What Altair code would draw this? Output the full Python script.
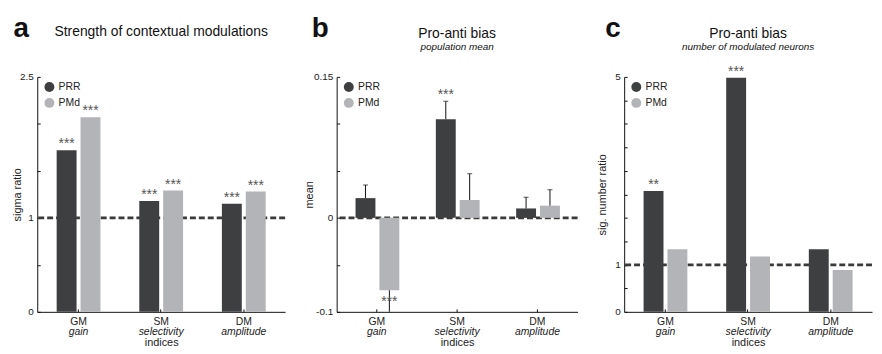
import altair as alt
import pandas as pd

categories = ["GM", "SM", "DM"]
subtitles = ["gain", "selectivity", "amplitude"]
areas = ["PRR", "PMd"]
colors = ["#3e3f41", "#b3b4b7"]

# panel a: strength of contextual modulations (sigma ratio)
a_prr = [1.72, 1.18, 1.15]
a_pmd = [2.07, 1.29, 1.28]
a_stars_prr = ["***", "***", "***"]
a_stars_pmd = ["***", "***", "***"]
a_labels = [0, 1, 2.5]
a_ticks = [0, 0.5, 1, 1.5, 2, 2.5]

# panel b: pro-anti bias, population mean (with error bars)
b_prr = [0.021, 0.105, 0.010]
b_pmd = [-0.077, 0.019, 0.013]
b_prr_err = [0.035, 0.124, 0.022]
b_pmd_err = [-0.115, 0.047, 0.030]
b_stars_prr = ["", "***", ""]
b_stars_pmd = ["***", "", ""]
b_labels = [-0.1, 0, 0.15]
b_ticks = [-0.1, -0.05, 0, 0.05, 0.1, 0.15]

# panel c: pro-anti bias, number of modulated neurons
c_prr = [2.57, 4.98, 1.33]
c_pmd = [1.33, 1.18, 0.89]
c_stars_prr = ["**", "***", ""]
c_stars_pmd = ["", "", ""]
c_labels = [0, 1, 5]
c_ticks = [0, 0.5, 1, 1.5, 2, 2.5, 3, 3.5, 4, 4.5, 5]

H = 237
FONT = "Liberation Sans"


def make_panel(letter, title, subtitle, ytitle, prr, pmd, stars_prr, stars_pmd,
               domain, labels, ticks, ref, W, letter_x, title_y, ytitle_x,
               err_prr=None, err_pmd=None):
    df = pd.DataFrame({
        "cat": categories * 2,
        "area": ["PRR"] * 3 + ["PMd"] * 3,
        "value": prr + pmd,
        "star": stars_prr + stars_pmd,
    })
    if err_prr is not None:
        df["err"] = err_prr + err_pmd
        df["star_y"] = df["err"]
    else:
        df["star_y"] = df["value"]

    xsort = categories
    xo = alt.XOffset("area:N", sort=areas,
                     scale=alt.Scale(paddingInner=0.1667, paddingOuter=0))

    ref_layer = alt.Chart(pd.DataFrame({"ref": [ref]})).mark_rule(
        strokeDash=[6, 3], strokeWidth=2.6, color="#3a3a3a"
    ).encode(y=alt.Y("ref:Q", axis=None))

    bars = alt.Chart(df).mark_bar().encode(
        x=alt.X("cat:N", sort=xsort,
                scale=alt.Scale(paddingInner=0.47, paddingOuter=0.235),
                axis=alt.Axis(title="indices", labelAngle=0, ticks=False, tickSize=0,
                              labelPadding=5, labelFontSize=10.5, titleFontSize=11,
                              titleFontWeight="normal", titleY=34,
                              titleBaseline="alphabetic", domainColor="#111")),
        xOffset=xo,
        y=alt.Y("value:Q", scale=alt.Scale(domain=domain, nice=False),
                axis=alt.Axis(title=ytitle, values=labels, labelExpr="datum.value + ''",
                              ticks=False, tickSize=0, labelPadding=4, labelFontSize=10,
                              titleFontSize=11, titleFontWeight="normal",
                              titleX=ytitle_x, titleBaseline="middle",
                              domainColor="#111", grid=False)),
        color=alt.Color("area:N", scale=alt.Scale(domain=areas, range=colors),
                        legend=alt.Legend(orient="none", legendX=7, legendY=5, title=None,
                                          symbolType="circle", symbolSize=100,
                                          symbolStrokeWidth=0, labelFontSize=10.5,
                                          rowPadding=5, padding=0, labelOffset=4)),
    )

    layers = [ref_layer, bars]

    if err_prr is not None:
        err_rule = alt.Chart(df).mark_rule(color="#111", strokeWidth=1, clip=True).encode(
            x=alt.X("cat:N", sort=xsort, axis=None), xOffset=xo,
            y=alt.Y("value:Q", axis=None), y2="err:Q")
        err_cap = alt.Chart(df).mark_tick(color="#111", thickness=1, size=5, clip=True).encode(
            x=alt.X("cat:N", sort=xsort, axis=None), xOffset=xo,
            y=alt.Y("err:Q", axis=None))
        layers += [err_rule, err_cap]

    stars_pos = alt.Chart(df).transform_filter("datum.value >= 0").mark_text(
        dy=-2, fontSize=14, color="#555", baseline="alphabetic"
    ).encode(
        x=alt.X("cat:N", sort=xsort,
                axis=alt.Axis(orient="top", offset=-H, labels=False, domain=False,
                              ticks=True, tickSize=3, tickColor="#111", title=None,
                              minExtent=0, maxExtent=0)),
        xOffset=xo,
        y=alt.Y("star_y:Q",
                axis=alt.Axis(orient="right", offset=-W, values=ticks, labels=False,
                              domain=False, ticks=True, tickSize=3, tickColor="#111",
                              title=None, grid=False, minExtent=0, maxExtent=0)),
        text="star:N",
    )
    stars_neg = alt.Chart(df).transform_filter("datum.value < 0").mark_text(
        dy=16, fontSize=14, color="#555", baseline="alphabetic"
    ).encode(
        x=alt.X("cat:N", sort=xsort, axis=None), xOffset=xo,
        y=alt.Y("value:Q", axis=None), text="star:N",
    )
    layers += [stars_pos, stars_neg]

    sub_df = pd.DataFrame({"cat": categories, "sub": subtitles})
    sublabels = alt.Chart(sub_df).mark_text(
        fontStyle="italic", fontSize=10.5, baseline="alphabetic", color="#222"
    ).encode(x=alt.X("cat:N", sort=xsort, axis=None), y=alt.value(H + 23), text="sub:N")
    layers.append(sublabels)

    head = pd.DataFrame({"letter": [letter], "title": [title], "subtitle": [subtitle]})
    letter_mark = alt.Chart(head).mark_text(
        align="left", baseline="alphabetic", fontSize=28, fontWeight="bold", color="#111"
    ).encode(x=alt.value(letter_x), y=alt.value(-40), text="letter:N")
    title_mark = alt.Chart(head).mark_text(
        align="center", baseline="alphabetic", fontSize=14, color="#111"
    ).encode(x=alt.value(W / 2), y=alt.value(title_y), text="title:N")
    layers += [letter_mark, title_mark]
    if subtitle:
        sub_mark = alt.Chart(head).mark_text(
            align="center", baseline="alphabetic", fontSize=10, fontStyle="italic",
            color="#111"
        ).encode(x=alt.value(W / 2), y=alt.value(-27), text="subtitle:N")
        layers.append(sub_mark)

    return alt.layer(*layers).resolve_axis(x="independent", y="independent").properties(
        width=W, height=H)


pa = make_panel("a", "Strength of contextual modulations", "", "sigma ratio",
                a_prr, a_pmd, a_stars_prr, a_stars_pmd, [0, 2.5], a_labels, a_ticks, 1,
                250, -24, -41, -20)
pb = make_panel("b", "Pro-anti bias", "population mean", "mean",
                b_prr, b_pmd, b_stars_prr, b_stars_pmd, [-0.1, 0.15], b_labels, b_ticks, 0,
                243, -25, -39.5, -27, err_prr=b_prr_err, err_pmd=b_pmd_err)
pc = make_panel("c", "Pro-anti bias", "number of modulated neurons", "sig. number ratio",
                c_prr, c_pmd, c_stars_prr, c_stars_pmd, [0, 5], c_labels, c_ticks, 1,
                250, -19, -39.5, -22)

chart = alt.hconcat(pa, pb, pc, spacing=17).resolve_scale(color="independent").properties(
    padding={"left": 3.5, "top": 6, "right": 0, "bottom": 0}
).configure(font=FONT).configure_view(stroke=None).configure_axis(
    labelColor="#222", titleColor="#222", labelFont=FONT, titleFont=FONT
).configure_legend(labelFont=FONT, labelColor="#222")

chart.save("out.html", embed_options={"renderer": "svg", "actions": False})
